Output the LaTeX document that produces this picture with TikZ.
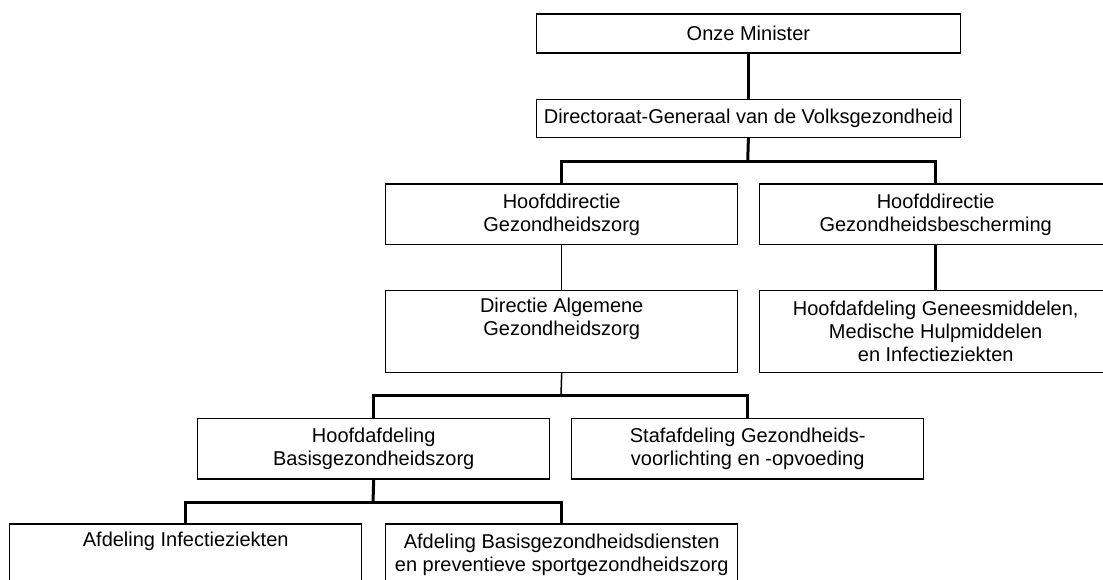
\documentclass[tikz,border=0pt]{standalone}
\usepackage{fontspec}
\setmainfont{Liberation Sans}
\begin{document}
\begin{tikzpicture}[x=1pt,y=-1pt,
  box/.style={draw, line width=1.4pt, rectangle, inner sep=0pt, align=center,
    font=\fontsize{20}{23}\selectfont, anchor=north west},
  thickline/.style={line width=3pt, line join=miter},
  thinline/.style={line width=1.5pt}]
\useasboundingbox (0,0) rectangle (1103,579);
\clip (0,0) rectangle (1103,579);
\fill[white] (0,0) rectangle (1103,579);

\node[box, minimum width=424pt, minimum height=39pt] (b1) at (535.7,13.3) {Onze Minister};
\node[box, minimum width=424pt, minimum height=38pt] (b2) at (535.7,98.7) {Directoraat-Generaal van de Volksgezondheid};
\node[box, minimum width=352pt, minimum height=60.7pt] (b3) at (385,183.3) {Hoofddirectie\\Gezondheidszorg};
\node[box, minimum width=352pt, minimum height=60.7pt] (b4) at (759,183.3) {Hoofddirectie\\Gezondheidsbescherming};
\node[box, minimum width=352pt, minimum height=81.7pt] (b5) at (385,290) {Directie Algemene\\Gezondheidszorg\\\strut};
\node[box, minimum width=352pt, minimum height=81.7pt] (b6) at (759,290) {Hoofdafdeling Geneesmiddelen,\\Medische Hulpmiddelen\\en Infectieziekten};
\node[box, minimum width=352pt, minimum height=60.3pt] (b7) at (197,418) {Hoofdafdeling\\Basisgezondheidszorg};
\node[box, minimum width=352pt, minimum height=60.3pt] (b8) at (571,418) {Stafafdeling Gezondheids-\\voorlichting en -opvoeding};
\node[box, minimum width=352pt, minimum height=61pt] (b9) at (9,523.3) {Afdeling Infectieziekten\\\strut};
\node[box, minimum width=352pt, minimum height=61pt] (b10) at (385,523.3) {Afdeling Basisgezondheidsdiensten\\en preventieve sportgezondheidszorg};

\coordinate (j1) at (747.7,161.7);
\coordinate (j2) at (561,395);
\coordinate (j3) at (373,502.7);

\draw[thickline] (b1.south) -- (b2.north);
\draw[thickline] (b2.south) -- (j1);
\draw[thickline] (b3.north) |- (j1) -| (b4.north);
\draw[thinline] (b3.south) -- (b5.north);
\draw[thickline] (b4.south) -- (b6.north);
\draw[thinline] (b5.south) -- (j2);
\draw[thickline] (b7.north) |- (j2) -| (b8.north);
\draw[thickline] (b7.south) -- (j3);
\draw[thickline] (b9.north) |- (j3) -| (b10.north);
\end{tikzpicture}
\end{document}
